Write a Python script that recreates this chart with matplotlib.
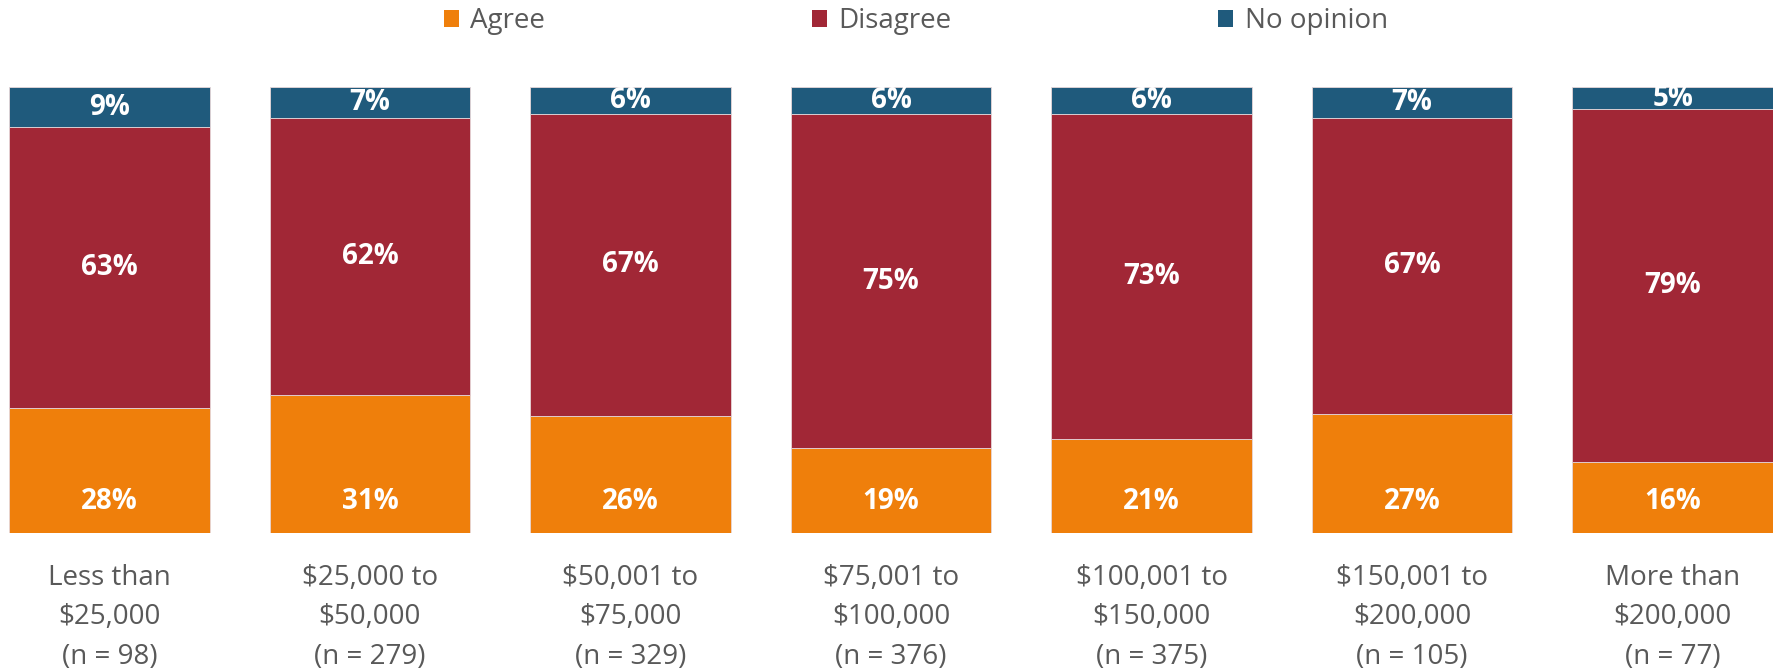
import numpy as np
import matplotlib
matplotlib.use("Agg")
from matplotlib import pyplot as plt
from matplotlib.patches import Patch

plt.rcParams['font.family'] = ['Open Sans', 'DejaVu Sans']

# income brackets and survey shares (percent)
categories = ["Less than\n$25,000\n(n = 98)", "$25,000 to\n$50,000\n(n = 279)",
              "$50,001 to\n$75,000\n(n = 329)", "$75,001 to\n$100,000\n(n = 376)",
              "$100,001 to\n$150,000\n(n = 375)", "$150,001 to\n$200,000\n(n = 105)",
              "More than\n$200,000\n(n = 77)"]
agree = [28, 31, 26, 19, 21, 27, 16]
disagree = [63, 62, 67, 75, 73, 67, 79]
no_opinion = [9, 7, 6, 6, 6, 7, 5]

series_names = ["Agree", "Disagree", "No opinion"]
colors = ["#EF7F0B", "#A12736", "#1F5A7C"]
text_gray = "#595959"

W, H = 1775, 671
fig = plt.figure(figsize=(W / 100, H / 100), dpi=100)

# axes placed in pixels so the bars land where the reference has them
width = 0.77
left_px, right_px, top_px, bottom_px = 9, 1773, 87, 533
ax = fig.add_axes([left_px / W, 1 - bottom_px / H,
                   (right_px - left_px) / W, (bottom_px - top_px) / H])

x = np.arange(len(categories))
data = np.array([agree, disagree, no_opinion], dtype=float)
# the bars are drawn at full height (rounded values don't always add to 100)
scaled = data / data.sum(axis=0) * 100

bottom = np.zeros(len(categories))
for k in range(3):
    ax.bar(x, scaled[k], width, bottom=bottom, color=colors[k],
           edgecolor="#E6D6D8", linewidth=0.6)
    for i in range(len(categories)):
        label = f"{int(data[k][i])}%"
        if k == 0:
            # Excel "inside base" placement for the bottom series
            ax.annotate(label, xy=(x[i], 0), xytext=(0, 23), textcoords="offset points",
                        ha="center", va="center", color="white", fontsize=20,
                        fontweight="bold")
        else:
            ax.text(x[i], bottom[i] + scaled[k][i] / 2, label, ha="center", va="center",
                    color="white", fontsize=20, fontweight="bold")
    bottom += scaled[k]

ax.set_xlim(-width / 2, len(categories) - 1 + width / 2)
ax.set_ylim(0, 100)
ax.set_yticks([])
ax.set_xticks(x)
ax.set_xticklabels(categories, fontsize=20, color=text_gray, linespacing=1.55)
ax.tick_params(axis="x", length=0, pad=22)
for s in ax.spines.values():
    s.set_visible(False)

handles = [Patch(facecolor=c, edgecolor="none") for c in colors]
leg = fig.legend(handles, series_names, loc="center", bbox_to_anchor=(0.516, 1 - 21 / H),
                 ncol=3, frameon=False, fontsize=20, handlelength=0.55, handleheight=0.55,
                 handletextpad=0.4, columnspacing=9.6)
for t in leg.get_texts():
    t.set_color(text_gray)

fig.savefig("out.png", dpi=100)
